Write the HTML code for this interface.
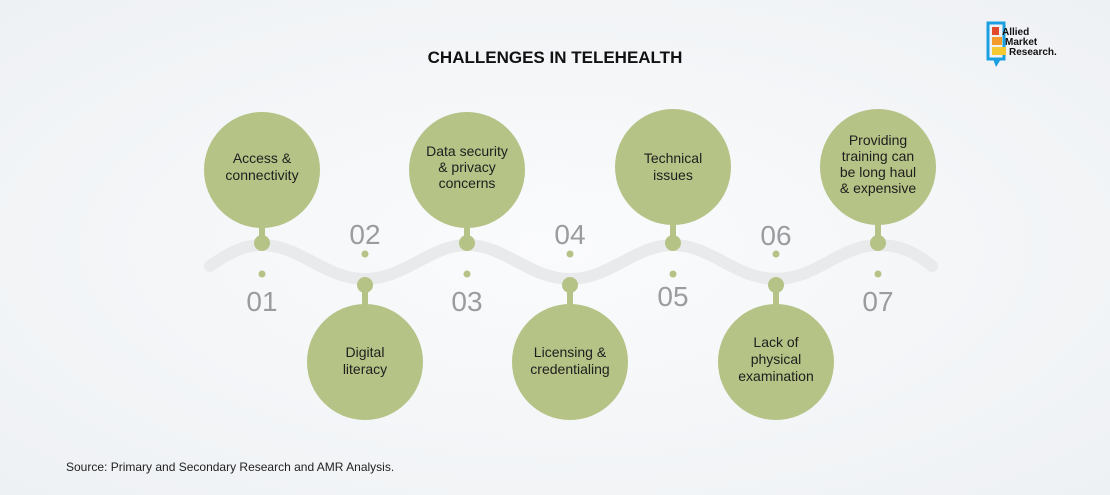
<!DOCTYPE html>
<html><head><meta charset="utf-8"><style>
html,body{margin:0;padding:0;background:#f5f7f9;}
svg{display:block}
</style></head><body>
<svg width="1110" height="495" viewBox="0 0 1110 495" xmlns="http://www.w3.org/2000/svg" font-family="Liberation Sans, sans-serif">
<defs>
<radialGradient id="bg" cx="0.5" cy="0.5" r="0.7"><stop offset="0" stop-color="#fafbfc"/><stop offset="1" stop-color="#eef1f4"/></radialGradient>
</defs>
<rect width="1110" height="495" fill="url(#bg)"/>
<text x="555" y="63" text-anchor="middle" font-size="17" font-weight="bold" fill="#111">CHALLENGES IN TELEHEALTH</text>
<!-- logo -->
<rect x="988" y="23" width="16" height="36" fill="none" stroke="#1aa0e0" stroke-width="3"/>
<path d="M993,59 L996,67 L1001,59 Z" fill="#1aa0e0"/>
<rect x="992" y="27" width="7" height="8" fill="#e04a2a"/>
<rect x="992" y="37" width="10" height="8" fill="#f29a2a"/>
<rect x="992" y="47" width="14" height="8" fill="#f6c832"/>
<text x="1002" y="35" font-size="10" font-weight="bold" fill="#111">Allied</text>
<text x="1005" y="45" font-size="10" font-weight="bold" fill="#111">Market</text>
<text x="1009" y="55" font-size="10" font-weight="bold" fill="#111">Research.</text>
<!-- wave -->
<path d="M210,266 C230,252 245,245 262,245 C300,245 325,279 365,279 C405,279 430,245 467,245 C505,245 530,279 570,279 C610,279 635,245 673,245 C711,245 736,279 776,279 C816,279 841,245 878,245 C900,245 915,252 932,266" fill="none" stroke="#e9eaeb" stroke-width="12" stroke-linecap="round"/>
<g fill="#b5c386">
<circle cx="262" cy="170" r="58"/><circle cx="467" cy="170" r="58"/><circle cx="673" cy="167" r="58"/><circle cx="878" cy="167" r="58"/>
<circle cx="365" cy="362" r="58"/><circle cx="570" cy="362" r="58"/><circle cx="776" cy="362" r="58"/>
<rect x="259" y="222" width="6" height="18"/><rect x="464" y="222" width="6" height="18"/><rect x="670" y="220" width="6" height="20"/><rect x="875" y="220" width="6" height="20"/>
<rect x="362" y="288" width="6" height="20"/><rect x="567" y="288" width="6" height="20"/><rect x="773" y="288" width="6" height="20"/>
<circle cx="262" cy="243" r="8"/><circle cx="467" cy="243" r="8"/><circle cx="673" cy="243" r="8"/><circle cx="878" cy="243" r="8"/>
<circle cx="365" cy="285" r="8"/><circle cx="570" cy="285" r="8"/><circle cx="776" cy="285" r="8"/>
<circle cx="262" cy="274" r="3.5"/><circle cx="467" cy="274" r="3.5"/><circle cx="673" cy="274" r="3.5"/><circle cx="878" cy="274" r="3.5"/>
<circle cx="365" cy="254" r="3.5"/><circle cx="570" cy="254" r="3.5"/><circle cx="776" cy="254" r="3.5"/>
</g>
<g font-size="28" fill="#9b9ca0" text-anchor="middle">
<text x="262" y="311">01</text><text x="467" y="311">03</text><text x="673" y="306">05</text><text x="878" y="311">07</text>
<text x="365" y="244">02</text><text x="570" y="244">04</text><text x="776" y="245">06</text>
</g>
<g font-size="14" fill="#1e1e1e" text-anchor="middle">
<text x="262" y="163">Access &amp;</text><text x="262" y="180">connectivity</text>
<text x="467" y="156">Data security</text><text x="467" y="172">&amp; privacy</text><text x="467" y="188">concerns</text>
<text x="673" y="163">Technical</text><text x="673" y="180">issues</text>
<text x="878" y="145">Providing</text><text x="878" y="161">training can</text><text x="878" y="177">be long haul</text><text x="878" y="193">&amp; expensive</text>
<text x="365" y="357">Digital</text><text x="365" y="374">literacy</text>
<text x="570" y="357">Licensing &amp;</text><text x="570" y="374">credentialing</text>
<text x="776" y="347">Lack of</text><text x="776" y="364">physical</text><text x="776" y="381">examination</text>
</g>
<text x="66" y="471" font-size="12" fill="#222">Source: Primary and Secondary Research and AMR Analysis.</text>
</svg>
</body></html>
